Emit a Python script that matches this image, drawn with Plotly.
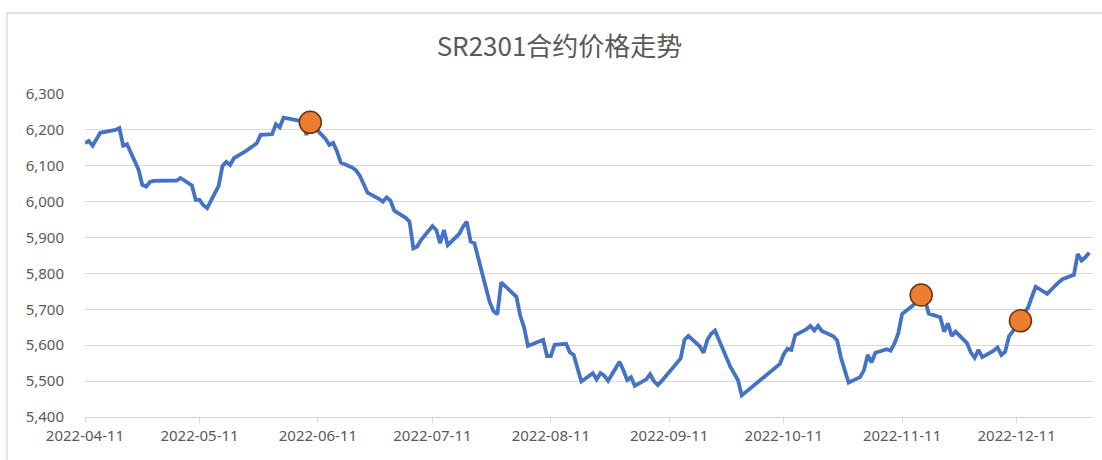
import plotly.graph_objects as go

# ---- data ----
dates = [
    "2022-04-11", "2022-04-12", "2022-04-13", "2022-04-14", "2022-04-15",
    "2022-04-18", "2022-04-19", "2022-04-20", "2022-04-21", "2022-04-22",
    "2022-04-25", "2022-04-26", "2022-04-27", "2022-04-28", "2022-04-29",
    "2022-05-05", "2022-05-06", "2022-05-09", "2022-05-10", "2022-05-11",
    "2022-05-12", "2022-05-13", "2022-05-16", "2022-05-17", "2022-05-18",
    "2022-05-19", "2022-05-20", "2022-05-23", "2022-05-24", "2022-05-25",
    "2022-05-26", "2022-05-27", "2022-05-30", "2022-05-31", "2022-06-01",
    "2022-06-02", "2022-06-06", "2022-06-07", "2022-06-08", "2022-06-09",
    "2022-06-10", "2022-06-13", "2022-06-14", "2022-06-15", "2022-06-16",
    "2022-06-17", "2022-06-20", "2022-06-21", "2022-06-22", "2022-06-23",
    "2022-06-24", "2022-06-27", "2022-06-28", "2022-06-29", "2022-06-30",
    "2022-07-01", "2022-07-04", "2022-07-05", "2022-07-06", "2022-07-07",
    "2022-07-08", "2022-07-11", "2022-07-12", "2022-07-13", "2022-07-14",
    "2022-07-15", "2022-07-18", "2022-07-19", "2022-07-20", "2022-07-21",
    "2022-07-22", "2022-07-25", "2022-07-26", "2022-07-27", "2022-07-28",
    "2022-07-29", "2022-08-01", "2022-08-02", "2022-08-03", "2022-08-04",
    "2022-08-05", "2022-08-08", "2022-08-09", "2022-08-10", "2022-08-11",
    "2022-08-12", "2022-08-15", "2022-08-16", "2022-08-17", "2022-08-18",
    "2022-08-19", "2022-08-22", "2022-08-23", "2022-08-24", "2022-08-25",
    "2022-08-26", "2022-08-29", "2022-08-30", "2022-08-31", "2022-09-01",
    "2022-09-02", "2022-09-05", "2022-09-06", "2022-09-07", "2022-09-08",
    "2022-09-09", "2022-09-13", "2022-09-14", "2022-09-15", "2022-09-16",
    "2022-09-19", "2022-09-20", "2022-09-21", "2022-09-22", "2022-09-23",
    "2022-09-26", "2022-09-27", "2022-09-28", "2022-09-29", "2022-09-30",
    "2022-10-10", "2022-10-11", "2022-10-12", "2022-10-13", "2022-10-14",
    "2022-10-17", "2022-10-18", "2022-10-19", "2022-10-20", "2022-10-21",
    "2022-10-24", "2022-10-25", "2022-10-26", "2022-10-27", "2022-10-28",
    "2022-10-31", "2022-11-01", "2022-11-02", "2022-11-03", "2022-11-04",
    "2022-11-07", "2022-11-08", "2022-11-09", "2022-11-10", "2022-11-11",
    "2022-11-14", "2022-11-15", "2022-11-16", "2022-11-17", "2022-11-18",
    "2022-11-21", "2022-11-22", "2022-11-23", "2022-11-24", "2022-11-25",
    "2022-11-28", "2022-11-29", "2022-11-30", "2022-12-01", "2022-12-02",
    "2022-12-05", "2022-12-06", "2022-12-07", "2022-12-08", "2022-12-09",
    "2022-12-12", "2022-12-13", "2022-12-14", "2022-12-15", "2022-12-16",
    "2022-12-19", "2022-12-20", "2022-12-21", "2022-12-22", "2022-12-23",
    "2022-12-26", "2022-12-27", "2022-12-28", "2022-12-29", "2022-12-30",
]

prices = [
    6163, 6169, 6156, 6175, 6192,
    6198, 6200, 6205, 6156, 6160,
    6090, 6047, 6042, 6055, 6058,
    6059, 6066, 6045, 6005, 6005,
    5990, 5982, 6044, 6099, 6111,
    6102, 6121, 6140, 6149, 6155,
    6163, 6186, 6188, 6216, 6207,
    6234, 6226, 6222, 6186, 6221,
    6209, 6175, 6158, 6164, 6140,
    6109, 6095, 6087, 6072, 6050,
    6025, 6008, 6000, 6012, 6003,
    5975, 5955, 5944, 5870, 5875,
    5893, 5932, 5921, 5884, 5921,
    5879, 5910, 5930, 5944, 5889,
    5884, 5760, 5720, 5695, 5686,
    5775, 5745, 5735, 5682, 5650,
    5598, 5612, 5615, 5570, 5570,
    5601, 5604, 5580, 5573, 5535,
    5499, 5522, 5505, 5522, 5515,
    5501, 5554, 5530, 5503, 5511,
    5487, 5505, 5519, 5500, 5489,
    5500, 5552, 5563, 5615, 5626,
    5597, 5579, 5615, 5632, 5641,
    5564, 5540, 5522, 5503, 5460,
    5548, 5575, 5590, 5587, 5628,
    5645, 5654, 5641, 5654, 5640,
    5625, 5613, 5565, 5530, 5496,
    5511, 5530, 5573, 5552, 5579,
    5589, 5585, 5605, 5633, 5687,
    5712, 5728, 5740, 5725, 5688,
    5678, 5638, 5661, 5626, 5638,
    5606, 5580, 5565, 5587, 5567,
    5585, 5594, 5573, 5582, 5625,
    5668, 5690, 5705, 5735, 5763,
    5743, 5755, 5765, 5775, 5784,
    5796, 5854, 5836, 5845, 5858,
]

marker_dates = ["2022-06-09", "2022-11-16", "2022-12-12"]
marker_prices = [prices[dates.index(d)] for d in marker_dates]

x_tick_dates = ["2022-04-11", "2022-05-11", "2022-06-11", "2022-07-11",
                "2022-08-11", "2022-09-11", "2022-10-11", "2022-11-11",
                "2022-12-11"]
y_tick_values = [5400, 5500, 5600, 5700, 5800, 5900, 6000, 6100, 6200, 6300]

title_text = "SR2301合约价格走势"

# ---- figure ----
W, H = 1102, 460
ml, mr, mt, mb = 85, 9, 94, 43
pw, ph = W - ml - mr, H - mt - mb

fig = go.Figure()
fig.add_trace(go.Scatter(
    x=dates, y=prices, mode="lines",
    line=dict(color="#4472C4", width=3.8),
    hoverinfo="x+y", showlegend=False,
))
fig.add_trace(go.Scatter(
    x=marker_dates, y=marker_prices, mode="markers",
    marker=dict(size=22, color="#ED7D31",
                line=dict(color="#6B3311", width=1.5)),
    showlegend=False,
))

tick_font = dict(family="Noto Sans, Open Sans, sans-serif", size=15, color="#595959")

fig.update_layout(
    width=W, height=H,
    margin=dict(l=ml, r=mr, t=mt, b=mb, pad=0),
    paper_bgcolor="white", plot_bgcolor="white",
    title=dict(
        text=title_text,
        font=dict(family="Noto Sans CJK SC, Noto Sans, sans-serif",
                  size=26, color="#595959"),
        xref="container", yref="container",
        x=559.5 / W, y=1 - 47 / H,
        xanchor="center", yanchor="middle",
    ),
    xaxis=dict(
        type="date",
        range=["2022-04-11", "2022-12-31"],
        tickvals=x_tick_dates,
        ticktext=x_tick_dates,
        showgrid=False, zeroline=False,
        showline=True, linecolor="#D9D9D9", linewidth=1.3,
        ticks="outside", ticklen=5, tickcolor="#D9D9D9", tickwidth=1.3,
        tickfont=tick_font,
    ),
    yaxis=dict(
        range=[5400, 6300],
        tickvals=y_tick_values,
        tickformat=",",
        showgrid=True, gridcolor="#D9D9D9", gridwidth=1.3,
        zeroline=False, showline=False,
        ticks="", ticklabelstandoff=20,
        tickfont=tick_font,
    ),
    shapes=[dict(
        type="rect", xref="paper", yref="paper",
        x0=(7 - ml) / pw, x1=(W + 5 - ml) / pw,
        y0=(H - mb - (H + 5)) / ph, y1=(H - mb - 13) / ph,
        line=dict(color="#D9D9D9", width=1.3),
        fillcolor="rgba(0,0,0,0)", layer="below",
    )],
)

fig.write_html(
    "out.html",
    config={"displayModeBar": False},
    post_script="document.body.style.margin='0';document.body.style.overflow='hidden';",
)
